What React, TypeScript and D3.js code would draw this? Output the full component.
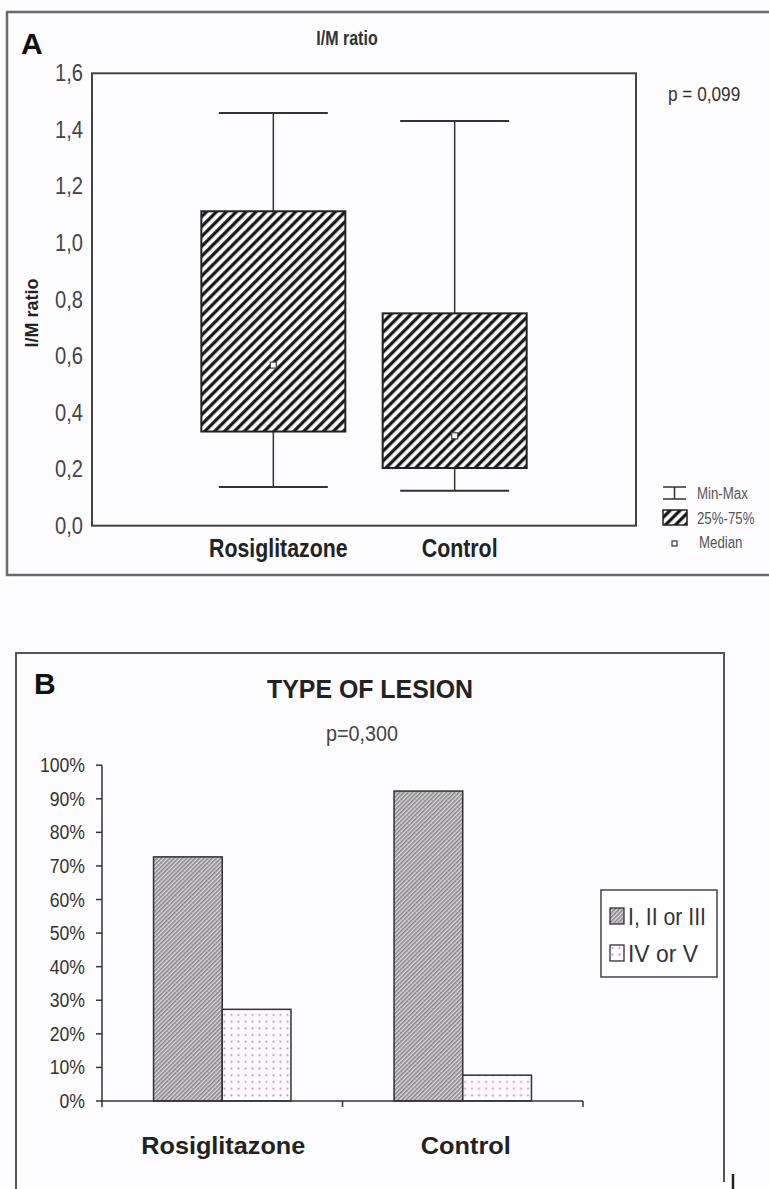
import React from 'react';
import * as d3 from 'd3';

// Panel A: I/M ratio box plot
const groups = ['Rosiglitazone', 'Control'];
const boxMin = [0.137, 0.124];
const boxQ1 = [0.333, 0.204];
const boxMedian = [0.568, 0.318];
const boxQ3 = [1.112, 0.751];
const boxMax = [1.46, 1.431];
const ticksA = [0, 0.2, 0.4, 0.6, 0.8, 1.0, 1.2, 1.4, 1.6];

// Panel B: type of lesion
const lesionTypes = ['I, II or III', 'IV or V'];
const lesionPct = [
  [72.7, 27.3], // Rosiglitazone
  [92.3, 7.7], // Control
];
const ticksB = [0, 10, 20, 30, 40, 50, 60, 70, 80, 90, 100];

const SANS = "'Liberation Sans', Arial, sans-serif";

const commaFmt = (v: number) => d3.format('.1f')(v).replace('.', ',');

// condensed text (no narrow font installed) - squeeze horizontally
const CText = ({ x, y, sx = 0.82, anchor = 'start', size, bold = false, fill = '#333', children }: any) => (
  <text
    transform={`translate(${x},${y}) scale(${sx},1)`}
    textAnchor={anchor}
    fontFamily={SANS}
    fontWeight={bold ? 'bold' : 'normal'}
    fontSize={size}
    fill={fill}
  >
    {children}
  </text>
);

export default function App() {
  // ---- scales A
  const yA = d3.scaleLinear().domain([0, 1.6]).range([525.7, 73.3]);
  const xA = d3.scalePoint<string>().domain(groups).range([92, 636]).padding(1);
  const boxW = 144;
  const capW = 109;

  // ---- scales B
  const yB = d3.scaleLinear().domain([0, 100]).range([1101, 765.2]);
  const xB = d3.scaleBand<string>().domain(groups).range([102, 583]);
  const xSub = d3
    .scaleBand<string>()
    .domain(lesionTypes)
    .range([0, xB.bandwidth()])
    .paddingInner(0)
    .paddingOuter(0.75);
  const fills = ['url(#hatchB)', 'url(#dotsB)'];

  return (
    <svg
      width={769}
      height={1189}
      style={{ position: 'absolute', left: 0, top: 0, background: '#fdfcfe' }}
    >
      <defs>
        <pattern id="hatchA" patternUnits="userSpaceOnUse" width={7} height={7} patternTransform="rotate(45)">
          <rect width={7} height={7} fill="#fff" />
          <line x1={1.8} y1={-1} x2={1.8} y2={8} stroke="#111" strokeWidth={3.2} />
        </pattern>
        <pattern id="hatchB" patternUnits="userSpaceOnUse" width={3} height={3} patternTransform="rotate(45)">
          <rect width={3} height={3} fill="#dcdadd" />
          <line x1={0.8} y1={-1} x2={0.8} y2={4} stroke="#7d7b80" strokeWidth={1.4} />
        </pattern>
        <pattern id="dotsB" patternUnits="userSpaceOnUse" width={7} height={6.7}>
          <rect width={7} height={6.7} fill="#fdf8fc" />
          <circle cx={3.5} cy={3.3} r={1.1} fill="#b2a9b3" />
        </pattern>
      </defs>

      {/* ================= Panel A ================= */}
      <rect x={7} y={12} width={780} height={563} fill="none" stroke="#6a6a6a" strokeWidth={2.5} />
      <text x={21} y={54} fontFamily={SANS} fontWeight="bold" fontSize={30} fill="#111">A</text>
      <CText x={347} y={45} anchor="middle" size={20} bold sx={0.8} fill="#333">I/M ratio</CText>
      <CText x={668} y={101} size={21} sx={0.82} fill="#333">p = 0,099</CText>

      <rect x={92} y={yA(1.6)} width={544} height={yA(0) - yA(1.6)} fill="none" stroke="#444" strokeWidth={2} />

      {ticksA.map((t) => (
        <CText key={t} x={83} y={yA(t) + 8} anchor="end" size={24} sx={0.84} fill="#444">
          {commaFmt(t)}
        </CText>
      ))}

      <text
        transform={`translate(38,313) rotate(-90)`}
        textAnchor="middle"
        fontFamily={SANS}
        fontWeight="bold"
        fontSize={18}
        fill="#222"
      >
        I/M ratio
      </text>

      {groups.map((g, i) => {
        const cx = xA(g) as number;
        return (
          <g key={g}>
            <line x1={cx} x2={cx} y1={yA(boxMax[i])} y2={yA(boxQ3[i])} stroke="#333" strokeWidth={1.5} />
            <line x1={cx} x2={cx} y1={yA(boxQ1[i])} y2={yA(boxMin[i])} stroke="#333" strokeWidth={1.5} />
            <line x1={cx - capW / 2} x2={cx + capW / 2} y1={yA(boxMax[i])} y2={yA(boxMax[i])} stroke="#333" strokeWidth={2} />
            <line x1={cx - capW / 2} x2={cx + capW / 2} y1={yA(boxMin[i])} y2={yA(boxMin[i])} stroke="#333" strokeWidth={2} />
            <rect
              x={cx - boxW / 2}
              y={yA(boxQ3[i])}
              width={boxW}
              height={yA(boxQ1[i]) - yA(boxQ3[i])}
              fill="url(#hatchA)"
              stroke="#222"
              strokeWidth={2}
            />
            <rect x={cx - 3} y={yA(boxMedian[i]) - 3} width={6} height={6} fill="#fff" stroke="#444" strokeWidth={1.2} />
            <CText x={cx + 5} y={557} anchor="middle" size={26} bold sx={0.82} fill="#222">
              {g}
            </CText>
          </g>
        );
      })}

      {/* legend A */}
      <g stroke="#333" strokeWidth={1.5}>
        <line x1={663} x2={686} y1={487} y2={487} />
        <line x1={663} x2={686} y1={499} y2={499} />
        <line x1={674.5} x2={674.5} y1={487} y2={499} />
      </g>
      <rect x={663} y={510} width={24} height={15} fill="url(#hatchA)" stroke="#222" strokeWidth={1.5} />
      <rect x={672} y={541} width={5} height={5} fill="#fff" stroke="#333" strokeWidth={1.2} />
      <CText x={697} y={499} size={17} sx={0.78} fill="#555">Min-Max</CText>
      <CText x={697} y={524} size={17} sx={0.78} fill="#555">25%-75%</CText>
      <CText x={699} y={548} size={17} sx={0.78} fill="#555">Median</CText>

      {/* ================= Panel B ================= */}
      <path d="M16,1189 V653 H724 V1182" fill="none" stroke="#555" strokeWidth={2} />
      <line x1={733} x2={733} y1={1174} y2={1189} stroke="#222" strokeWidth={2.5} />
      <text x={34} y={694} fontFamily={SANS} fontWeight="bold" fontSize={30} fill="#111">B</text>
      <text
        x={370}
        y={698}
        textAnchor="middle"
        fontFamily={SANS}
        fontWeight="bold"
        fontSize={26}
        textLength={206}
        lengthAdjust="spacingAndGlyphs"
        fill="#222"
      >
        TYPE OF LESION
      </text>
      <CText x={362} y={741} anchor="middle" size={22} sx={0.9} fill="#444">p=0,300</CText>

      {/* y axis B */}
      <line x1={102} x2={102} y1={yB(100)} y2={yB(0)} stroke="#333" strokeWidth={1.5} />
      {ticksB.map((t) => (
        <g key={t}>
          <line x1={96} x2={102} y1={yB(t)} y2={yB(t)} stroke="#333" strokeWidth={1.5} />
          <CText x={85} y={yB(t) + 7} anchor="end" size={21} sx={0.84} fill="#333">
            {t}%
          </CText>
        </g>
      ))}

      {/* bars B */}
      {groups.map((g, gi) => (
        <g key={g} transform={`translate(${xB(g)},0)`}>
          {lesionTypes.map((s, si) => (
            <rect
              key={s}
              x={xSub(s)}
              y={yB(lesionPct[gi][si])}
              width={xSub.bandwidth()}
              height={yB(0) - yB(lesionPct[gi][si])}
              fill={fills[si]}
              stroke="#333"
              strokeWidth={1.5}
            />
          ))}
        </g>
      ))}

      {/* x axis B */}
      <line x1={102} x2={583} y1={yB(0)} y2={yB(0)} stroke="#333" strokeWidth={1.5} />
      {[...groups.map((g) => xB(g) as number), 583].map((x) => (
        <line key={x} x1={x} x2={x} y1={yB(0)} y2={yB(0) + 6} stroke="#333" strokeWidth={1.5} />
      ))}
      {groups.map((g, i) => (
        <text
          key={g}
          x={(xB(g) as number) + xB.bandwidth() / 2 + (i === 0 ? 1 : 3)}
          y={1154}
          textAnchor="middle"
          fontFamily={SANS}
          fontWeight="bold"
          fontSize={23}
          textLength={i === 0 ? 164 : 90}
          lengthAdjust="spacingAndGlyphs"
          fill="#222"
        >
          {g}
        </text>
      ))}

      {/* legend B */}
      <rect x={601} y={890} width={116} height={87} fill="#fff" stroke="#444" strokeWidth={1.5} />
      {lesionTypes.map((s, i) => (
        <g key={s}>
          <rect x={610} y={908 + i * 37} width={14} height={16} fill={fills[i]} stroke="#333" strokeWidth={1.3} />
          <text
            x={628}
            y={925 + i * 37}
            fontFamily={SANS}
            fontSize={24}
            textLength={i === 0 ? 78 : 70}
            lengthAdjust="spacingAndGlyphs"
            fill="#333"
          >
            {s}
          </text>
        </g>
      ))}
    </svg>
  );
}
